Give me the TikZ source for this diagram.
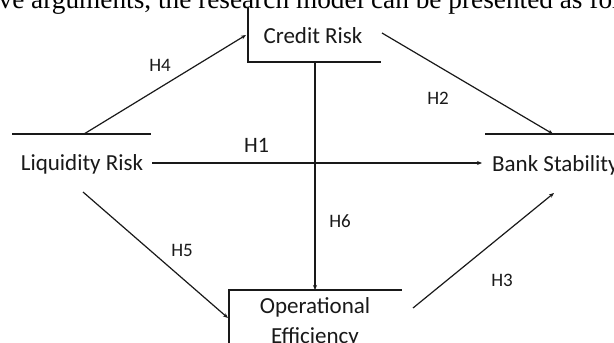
\documentclass[tikz,border=0pt]{standalone}
\usepackage{fontspec}
\setmainfont{Carlito}
\newfontfamily\headfont{Liberation Serif}
\usetikzlibrary{arrows.meta}
\begin{document}
\begin{tikzpicture}[x=1pt,y=-1pt,
  line/.style={line width=1.25pt,draw=black!90},
  conn/.style={line width=1.2pt,draw=black!90,-{Stealth[length=5pt,width=4pt]}},
  mainlbl/.style={font=\fontsize{23}{30}\selectfont,anchor=base,inner sep=0pt,text=black!90},
  hlbl/.style={font=\fontsize{19}{22}\selectfont,anchor=base,inner sep=0pt,text=black!90},
  hbig/.style={font=\fontsize{22}{26}\selectfont,anchor=base,inner sep=0pt,text=black!90}]
\useasboundingbox (0,0) rectangle (614,343);
\clip (0,0) rectangle (614,343);
\fill[white] (0,0) rectangle (614,343);
% cropped heading line
\node[anchor=base west,inner sep=0pt,font=\headfont\fontsize{27.3}{30}\selectfont] (head) at (-41,8) {above arguments, the research model can be presented as follows:};
% nodes
\node[mainlbl] (cr) at (313,43) {Credit Risk};
\node[mainlbl] (lr) at (82,170.5) {Liquidity Risk};
\node[mainlbl,anchor=base west] (bs) at (492,171) {Bank Stability};
\node[mainlbl,align=center,anchor=north] (oe) at (315,297) {Operational\\Efficiency};
% open box lines
\draw[line] (248,7) -- (248,62) -- (381,62);
\draw[line] (12,134) -- (151,134);
\draw[line] (485,134) -- (620,134);
\draw[line] (229,350) -- (229,290) -- (402,290);
% connector end points
\coordinate (h4s) at (84,134);
\coordinate (h4e) at (246,35);
\coordinate (h2s) at (382,33);
\coordinate (h2e) at (553,134);
\coordinate (h1s) at (152,163);
\coordinate (h1e) at (482,163);
\coordinate (h6s) at (315,62);
\coordinate (h6e) at (315,290);
\coordinate (h5s) at (83,192);
\coordinate (h5e) at (228,318);
\coordinate (h3s) at (413,308);
\coordinate (h3e) at (554,193);
\draw[conn] (h4s) -- (h4e);
\draw[conn] (h2s) -- (h2e);
\draw[conn] (h1s) -- (h1e);
\draw[conn] (h6s) -- (h6e);
\draw[conn] (h5s) -- (h5e);
\draw[conn] (h3s) -- (h3e);
% labels
\node[hlbl] (l4) at (160,71.5) {H4};
\node[hlbl] (l2) at (438,104.5) {H2};
\node[hbig] (l1) at (256.5,152.5) {H1};
\node[hlbl] (l6) at (340,227) {H6};
\node[hlbl] (l5) at (182,256) {H5};
\node[hlbl] (l3) at (502,286.5) {H3};
\end{tikzpicture}
\end{document}
